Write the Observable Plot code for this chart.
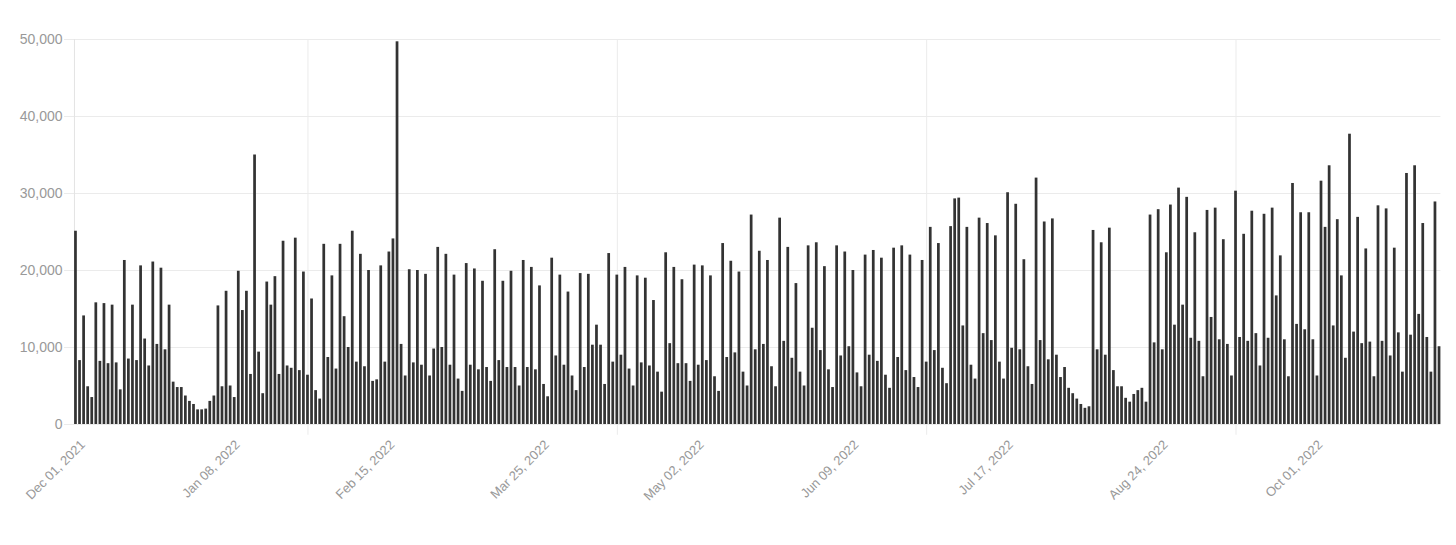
<!DOCTYPE html>
<html><head><meta charset="utf-8">
<script src="https://cdn.jsdelivr.net/npm/d3@7"></script>
<script src="https://cdn.jsdelivr.net/npm/@observablehq/plot@0.6"></script>
<style>html,body{margin:0;padding:0;background:#fff;} svg{display:block}</style>
</head><body><div id="chart"></div>
<script>
// Daily values (thousands), Dec 01 2021 .. Nov 01 2022
const startDate = "2021-12-01";
const valuesK = [
25.1,8.3,14.1,4.9,3.5,15.8,8.2,15.7,7.9,15.5,8.0,4.5,21.3,8.5,15.5,8.3,20.6,11.1,7.6,21.1,10.4,20.3,9.7,15.5,5.5,4.8,4.8,3.7,3.0,2.6,
1.9,1.9,2.0,3.0,3.7,15.4,4.9,17.3,5.0,3.5,19.9,14.8,17.3,6.5,35.0,9.4,4.0,18.5,15.5,19.2,6.5,23.8,7.6,7.3,24.2,7.0,19.8,6.4,16.3,4.4,3.3,
23.4,8.7,19.3,7.2,23.4,14.0,10.0,25.1,8.1,22.1,7.5,20.0,5.6,5.8,20.6,8.1,22.4,24.1,49.7,10.4,6.3,20.1,8.0,20.0,7.7,19.5,6.3,9.8,23.0,10.0,
22.1,7.7,19.4,5.9,4.3,20.9,7.7,20.2,7.1,18.6,7.4,5.6,22.7,8.3,18.6,7.4,19.9,7.4,5.0,21.3,7.4,20.4,7.1,18.0,5.2,3.6,21.6,8.9,19.4,7.7,17.2,
6.3,4.4,19.6,7.4,19.5,10.3,12.9,10.3,5.2,22.2,8.1,19.4,9.0,20.4,7.2,5.0,19.3,8.0,19.0,7.6,16.1,6.8,4.2,22.3,10.5,20.4,7.9,18.8,7.9,5.6,20.7,
7.7,20.6,8.3,19.3,6.2,4.3,23.5,8.7,21.2,9.3,19.8,6.8,5.0,27.2,9.7,22.5,10.4,21.3,7.5,4.9,26.8,10.8,23.0,8.6,18.3,6.8,5.0,23.2,12.5,23.6,9.6,
20.5,7.1,4.8,23.2,8.9,22.4,10.1,20.0,6.7,4.9,22.0,9.0,22.6,8.2,21.6,6.4,4.7,22.9,8.7,23.2,7.0,22.0,6.1,4.8,21.3,8.1,25.6,9.6,23.5,7.3,
5.3,25.7,29.3,29.4,12.8,25.6,7.7,5.9,26.8,11.8,26.1,10.9,24.5,8.1,5.9,30.1,9.9,28.6,9.7,21.4,7.5,5.2,32.0,10.9,26.3,8.4,26.7,9.0,6.1,7.4,4.7,
4.0,3.3,2.6,2.1,2.3,25.2,9.7,23.6,9.0,25.5,7.0,4.9,4.9,3.4,2.9,3.9,4.4,4.7,2.9,27.2,10.6,27.9,9.7,22.3,28.5,12.9,30.7,15.5,29.5,11.2,24.9,
10.8,6.2,27.8,13.9,28.1,11.0,24.0,10.4,6.3,30.3,11.3,24.7,10.8,27.7,11.8,7.6,27.3,11.2,28.1,16.7,21.9,11.0,6.2,31.3,13.0,27.5,12.3,27.5,11.0,6.3,
31.6,25.6,33.6,12.8,26.6,19.3,8.6,37.7,12.0,26.9,10.5,22.8,10.7,6.2,28.4,10.8,28.0,8.9,22.9,11.9,6.8,32.6,11.6,33.6,14.3,26.1,11.3,6.8,28.9,10.1
];
const yTicks = [0, 10000, 20000, 30000, 40000, 50000];
const xTickDates = ["2021-12-01","2022-01-08","2022-02-15","2022-03-25","2022-05-02","2022-06-09","2022-07-17","2022-08-24","2022-10-01"];
const xTickLabels = ["Dec 01, 2021","Jan 08, 2022","Feb 15, 2022","Mar 25, 2022","May 02, 2022","Jun 09, 2022","Jul 17, 2022","Aug 24, 2022","Oct 01, 2022"];
const gridDates = ["2022-01-27","2022-04-13","2022-06-28","2022-09-12"];

const fmt = d3.utcFormat("%Y-%m-%d");
const start = new Date(startDate + "T00:00:00Z");
const dates = valuesK.map((_, i) => fmt(d3.utcDay.offset(start, i)));
const data = dates.map((d, i) => ({date: d, value: valuesK[i] * 1000}));
const labelOf = new Map(xTickDates.map((d, i) => [d, xTickLabels[i]]));

const chart = Plot.plot({
  width: 1456, height: 545,
  marginTop: 39, marginBottom: 121, marginLeft: 74.1, marginRight: 15.6,
  style: {fontFamily: "'Liberation Sans', Arial, sans-serif", background: "#fff"},
  x: {type: "band", domain: dates, paddingInner: 0.33, paddingOuter: 0, round: false, axis: null},
  y: {domain: [0, 50000], axis: null},
  marks: [
    Plot.ruleY(yTicks, {stroke: "#ebebeb", insetLeft: -10}),
    Plot.ruleX(gridDates, {x: d => d, y1: -1400, y2: 50000, stroke: "#ebebeb"}),
    Plot.ruleX([dates[0]], {x: d => d, dx: -1.5, y1: 0, y2: 50000, stroke: "#e3e3e3"}),
    Plot.barY(data, {x: "date", y: "value", fill: "#333"}),
    Plot.axisY({ticks: yTicks, label: null, tickSize: 0, tickPadding: 12, tickFormat: d3.format(","), fill: "#999", fontSize: 14}),
    Plot.axisX({ticks: xTickDates, label: null, tickFormat: d => labelOf.get(d), tickRotate: -45, tickSize: 0, tickPadding: 16, dx: 7, dy: 2, fill: "#999", fontSize: 13})
  ]
});
document.getElementById("chart").appendChild(chart);
</script>
</body></html>
